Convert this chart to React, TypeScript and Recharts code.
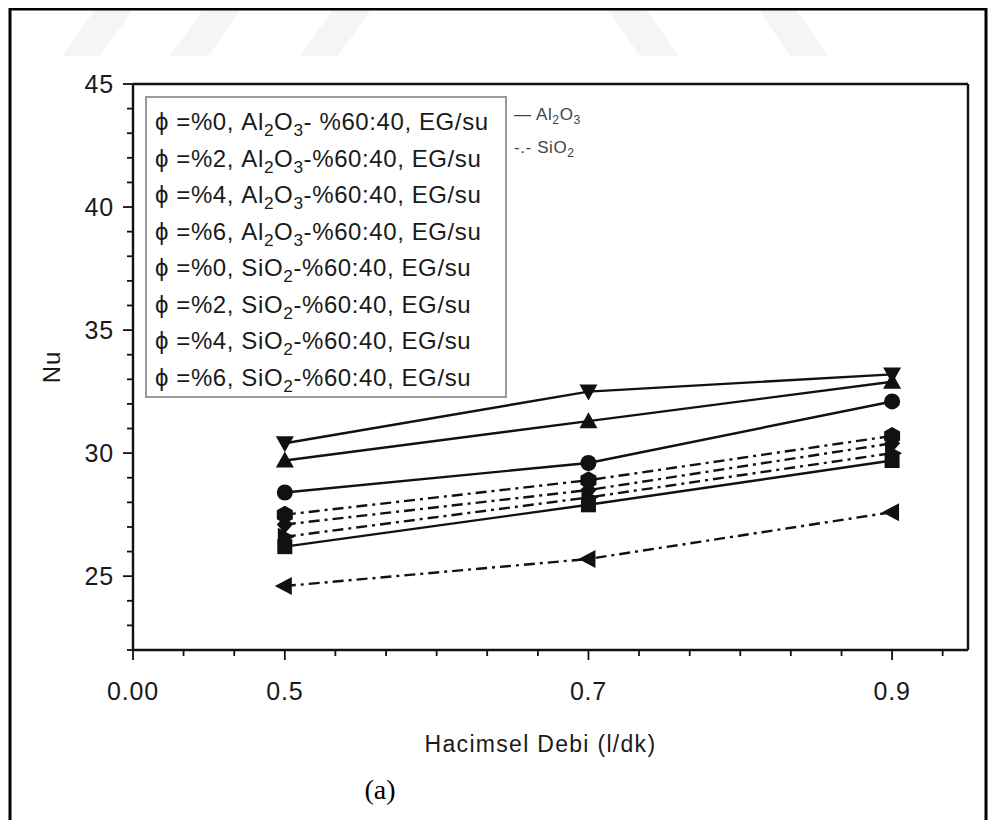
import React from "react";
import { LineChart, Line, XAxis, YAxis, ReferenceLine } from "recharts";

// Hacimsel debi (l/dk)
const flowRates = [0.5, 0.7, 0.9];

// Nu değerleri, Al2O3 (düz çizgi)
const al0 = [26.2, 27.9, 29.7];
const al2 = [28.4, 29.6, 32.1];
const al4 = [29.7, 31.3, 32.9];
const al6 = [30.4, 32.5, 33.2];

// Nu değerleri, SiO2 (kesik-nokta)
const si0 = [27.1, 28.5, 30.4];
const si2 = [24.6, 25.7, 27.6];
const si4 = [26.6, 28.2, 30.0];
const si6 = [27.5, 28.9, 30.7];

const xMajorTicks = [0.4, 0.5, 0.7, 0.9];
const xTickLabels = ["0.00", "0.5", "0.7", "0.9"];
const xMinorTicks = [0.4333, 0.4667, 0.5333, 0.5667, 0.6, 0.6333, 0.6667, 0.7333, 0.7667, 0.8, 0.8333, 0.8667, 0.9333];

const yMajorTicks = [25, 30, 35, 40, 45];
const yMinorTicks = [22, 23, 24, 26, 27, 28, 29, 31, 32, 33, 34, 36, 37, 38, 39, 41, 42, 43, 44];

const legendRows = [
  "ϕ =%0, Al2O3- %60:40, EG/su",
  "ϕ =%2, Al2O3-%60:40, EG/su",
  "ϕ =%4, Al2O3-%60:40, EG/su",
  "ϕ =%6, Al2O3-%60:40, EG/su",
  "ϕ =%0, SiO2-%60:40, EG/su",
  "ϕ =%2, SiO2-%60:40, EG/su",
  "ϕ =%4, SiO2-%60:40, EG/su",
  "ϕ =%6, SiO2-%60:40, EG/su",
];

type Shape = "square" | "circle" | "up" | "down" | "diamond" | "left" | "right" | "hexagon";

const series: { key: string; values: number[]; shape: Shape; dashed: boolean }[] = [
  { key: "si0", values: si0, shape: "diamond", dashed: true },
  { key: "si2", values: si2, shape: "left", dashed: true },
  { key: "si4", values: si4, shape: "right", dashed: true },
  { key: "si6", values: si6, shape: "hexagon", dashed: true },
  { key: "al0", values: al0, shape: "square", dashed: false },
  { key: "al2", values: al2, shape: "circle", dashed: false },
  { key: "al4", values: al4, shape: "up", dashed: false },
  { key: "al6", values: al6, shape: "down", dashed: false },
];

const data = flowRates.map((x, i) => {
  const row: Record<string, number> = { x };
  series.forEach((s) => (row[s.key] = s.values[i]));
  return row;
});

const INK = "#111";
const FONT = "'Liberation Sans', Arial, sans-serif";

function Marker({ cx, cy, shape }: { cx?: number; cy?: number; shape: Shape }) {
  if (cx == null || cy == null) return null;
  let d = "";
  switch (shape) {
    case "square":
      return <rect x={cx - 7.5} y={cy - 7.5} width={15} height={15} fill={INK} />;
    case "circle":
      return <circle cx={cx} cy={cy} r={8} fill={INK} />;
    case "up":
      d = `M${cx},${cy - 9} L${cx + 9},${cy + 7} L${cx - 9},${cy + 7} Z`;
      break;
    case "down":
      d = `M${cx},${cy + 9} L${cx + 9},${cy - 7} L${cx - 9},${cy - 7} Z`;
      break;
    case "diamond":
      d = `M${cx},${cy - 9} L${cx + 8},${cy} L${cx},${cy + 9} L${cx - 8},${cy} Z`;
      break;
    case "left":
      d = `M${cx - 10},${cy} L${cx + 7},${cy - 9} L${cx + 7},${cy + 9} Z`;
      break;
    case "right":
      d = `M${cx + 10},${cy} L${cx - 7},${cy - 9} L${cx - 7},${cy + 9} Z`;
      break;
    case "hexagon":
      d = `M${cx},${cy - 9} L${cx + 8},${cy - 4.5} L${cx + 8},${cy + 4.5} L${cx},${cy + 9} L${cx - 8},${cy + 4.5} L${cx - 8},${cy - 4.5} Z`;
      break;
  }
  return <path d={d} fill={INK} />;
}

function XTick({ x, y, payload }: any) {
  const idx = xMajorTicks.findIndex((t) => Math.abs(t - payload.value) < 1e-6);
  const major = idx >= 0;
  return (
    <g>
      <line x1={x} x2={x} y1={y} y2={y + (major ? 10 : 6)} stroke={INK} strokeWidth={1.8} />
      {major && (
        <text x={x} y={y + 50} textAnchor="middle" fontSize={25} letterSpacing={0.8} fontFamily={FONT} fill="#1a1a1a">
          {xTickLabels[idx]}
        </text>
      )}
    </g>
  );
}

function YTick({ x, y, payload }: any) {
  const major = yMajorTicks.includes(payload.value);
  return (
    <g>
      <line x1={x} x2={x - (major ? 10 : 6)} y1={y} y2={y} stroke={INK} strokeWidth={1.8} />
      {major && (
        <text x={x - 19} y={y + 9} textAnchor="end" fontSize={25} letterSpacing={0.8} fontFamily={FONT} fill="#1a1a1a">
          {payload.value}
        </text>
      )}
    </g>
  );
}

const subStyle: React.CSSProperties = { fontSize: "0.72em", verticalAlign: "-0.32em", lineHeight: 0 };

function chem(text: string) {
  return text.split(/(Al2O3|SiO2)/).map((part, i) => {
    if (part === "Al2O3")
      return (
        <span key={i}>
          Al<sub style={subStyle}>2</sub>O<sub style={subStyle}>3</sub>
        </span>
      );
    if (part === "SiO2")
      return (
        <span key={i}>
          SiO<sub style={subStyle}>2</sub>
        </span>
      );
    return <span key={i}>{part}</span>;
  });
}

export default function App() {
  return (
    <div style={{ position: "relative", width: 996, height: 828, margin: -8, background: "#fff" }}>
      <svg width={996} height={828} style={{ position: "absolute", left: 0, top: 0 }}>
        <g fill="#f5f5f5">
          <polygon points="62,56 100,56 140,0 102,0" />
          <polygon points="170,56 208,56 248,0 210,0" />
          <polygon points="300,56 338,56 378,0 340,0" />
          <polygon points="640,56 678,56 640,0 602,0" />
          <polygon points="790,56 828,56 790,0 752,0" />
        </g>
        <path d="M10,840 V9 H986 V840" fill="none" stroke="#000" strokeWidth={3} />
      </svg>
      <div style={{ position: "absolute", left: 0, top: 0 }}>
        <LineChart width={996} height={828} data={data} margin={{ top: 84, right: 28, bottom: 118, left: 0 }}>
          <XAxis
            dataKey="x"
            type="number"
            domain={[0.4, 0.95]}
            allowDataOverflow
            ticks={[...xMajorTicks, ...xMinorTicks].sort((a, b) => a - b)}
            interval={0}
            tick={<XTick />}
            tickLine={false}
            tickSize={0}
            tickMargin={0}
            axisLine={{ stroke: INK, strokeWidth: 2.4 }}
            height={60}
            label={(props: any) => {
              const vb = props.viewBox;
              return (
                <text x={vb.x + vb.width / 2 - 10} y={752} textAnchor="middle" fontSize={23} letterSpacing={1.3} fontFamily={FONT} fill="#1a1a1a">
                  Hacimsel Debi (l/dk)
                </text>
              );
            }}
          />
          <YAxis
            type="number"
            domain={[22, 45]}
            allowDataOverflow
            ticks={[...yMajorTicks, ...yMinorTicks].sort((a, b) => a - b)}
            interval={0}
            tick={<YTick />}
            tickLine={false}
            tickSize={0}
            tickMargin={0}
            axisLine={{ stroke: INK, strokeWidth: 2.4 }}
            width={133}
            label={(props: any) => {
              const vb = props.viewBox;
              const cy = vb.y + vb.height / 2;
              return (
                <text
                  x={60}
                  y={cy}
                  transform={`rotate(-90, 60, ${cy})`}
                  textAnchor="middle"
                  fontSize={24}
                  letterSpacing={1}
                  fontFamily={FONT}
                  fill="#1a1a1a"
                >
                  Nu
                </text>
              );
            }}
          />
          <ReferenceLine y={45} stroke={INK} strokeWidth={2.4} />
          <ReferenceLine x={0.95} stroke={INK} strokeWidth={2.4} />
          {series.map((s) => (
            <Line
              key={s.key}
              dataKey={s.key}
              type="linear"
              stroke={INK}
              strokeWidth={2.4}
              strokeDasharray={s.dashed ? "11 5 3 5" : undefined}
              dot={(p: any) => <Marker key={`${s.key}-${p.index}`} cx={p.cx} cy={p.cy} shape={s.shape} />}
              activeDot={false}
              isAnimationActive={false}
            />
          ))}
        </LineChart>
      </div>
      <div
        style={{
          position: "absolute",
          left: 145,
          top: 96,
          width: 350,
          height: 292,
          border: "2px solid #9a9a9a",
          background: "#fff",
          fontFamily: FONT,
          fontSize: 24,
          letterSpacing: 0.6,
          lineHeight: "36.5px",
          color: "#1a1a1a",
          paddingLeft: 8,
          paddingTop: 6,
          boxSizing: "content-box",
          whiteSpace: "nowrap",
        }}
      >
        {legendRows.map((r) => (
          <div key={r}>{chem(r)}</div>
        ))}
      </div>
      <div
        style={{
          position: "absolute",
          left: 514,
          top: 98,
          fontFamily: FONT,
          fontSize: 17,
          letterSpacing: 0.6,
          color: "#444",
          lineHeight: "33px",
        }}
      >
        <div>— {chem("Al2O3")}</div>
        <div>-.- {chem("SiO2")}</div>
      </div>
      <div
        style={{
          position: "absolute",
          left: 330,
          top: 774,
          width: 100,
          textAlign: "center",
          fontFamily: "'Liberation Serif', 'Times New Roman', serif",
          fontSize: 28,
          color: "#000",
        }}
      >
        (a)
      </div>
    </div>
  );
}
